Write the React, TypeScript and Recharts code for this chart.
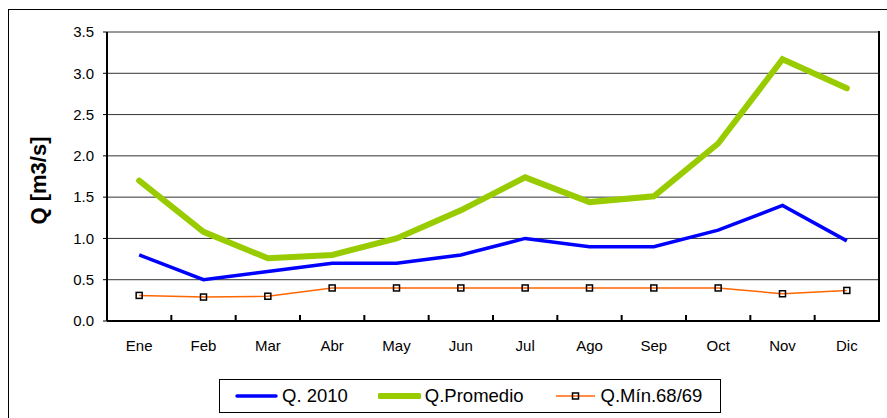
import { LineChart, Line, XAxis, YAxis, CartesianGrid, Label } from 'recharts';

const months = ['Ene', 'Feb', 'Mar', 'Abr', 'May', 'Jun', 'Jul', 'Ago', 'Sep', 'Oct', 'Nov', 'Dic'];
const q2010 = [0.8, 0.5, 0.6, 0.7, 0.7, 0.8, 1.0, 0.9, 0.9, 1.1, 1.4, 0.97];
const qPromedio = [1.7, 1.08, 0.76, 0.8, 1.0, 1.34, 1.74, 1.44, 1.51, 2.15, 3.17, 2.82];
const qMin = [0.31, 0.29, 0.3, 0.4, 0.4, 0.4, 0.4, 0.4, 0.4, 0.4, 0.33, 0.37];
const yTicks = [0, 0.5, 1.0, 1.5, 2.0, 2.5, 3.0, 3.5];

const series = [
  { key: 'q2010', name: 'Q. 2010', color: '#0000ff', width: 3.5 },
  { key: 'qProm', name: 'Q.Promedio', color: '#99cc00', width: 6 },
  { key: 'qMin', name: 'Q.Mín.68/69', color: '#ff6600', width: 1.5 },
];

const data = months.map((m, i) => ({
  month: m,
  q2010: q2010[i],
  qProm: qPromedio[i],
  qMin: qMin[i],
}));

const W = 887;
const H = 418;
const margin = { top: 32, right: 8, left: 0, bottom: 67 };
const Y_AXIS_W = 107;
const XAXIS_H = 30;
const BAND = (W - margin.left - margin.right - Y_AXIS_W) / months.length;
const FONT = '"Liberation Sans", Arial, sans-serif';

function MonthTick(props: any) {
  const { x, y, payload, index } = props;
  return (
    <g>
      <line x1={x - BAND / 2} x2={x - BAND / 2} y1={y} y2={y - 6} stroke="#000" strokeWidth={2} />
      {index === months.length - 1 && (
        <line x1={x + BAND / 2} x2={x + BAND / 2} y1={y} y2={y - 6} stroke="#000" strokeWidth={2} />
      )}
      <text x={x} y={y + 30} textAnchor="middle" fontSize={15} fill="#000" fontFamily={FONT}>
        {payload.value}
      </text>
    </g>
  );
}

function SquareDot(props: any) {
  const { cx, cy } = props;
  if (cx == null || cy == null) return null;
  return <rect x={cx - 3} y={cy - 3} width={6} height={6} fill="none" stroke="#000" strokeWidth={1.5} />;
}

function YTitle(props: any) {
  const { x, y, height } = props.viewBox;
  const cx = x + 38;
  const cy = y + height / 2 + 4;
  return (
    <text
      x={cx}
      y={cy}
      transform={`rotate(-90 ${cx} ${cy})`}
      textAnchor="middle"
      dominantBaseline="central"
      fontSize={22}
      fontWeight="bold"
      fill="#000"
      fontFamily={FONT}
    >
      Q [m3/s]
    </text>
  );
}

export default function App() {
  const plotTop = margin.top;
  const plotHeight = H - margin.top - margin.bottom - XAXIS_H;
  return (
    <div style={{ position: 'relative', width: W, height: H, fontFamily: FONT, overflow: 'hidden' }}>
      <style>{`body{margin:0;overflow:hidden;background:#fff}`}</style>
      <div
        style={{
          position: 'absolute',
          left: 8,
          top: 9,
          width: W,
          height: H,
          borderLeft: '1px solid #000',
          borderTop: '1px solid #000',
        }}
      />
      <LineChart width={W} height={H} data={data} margin={margin}>
        <CartesianGrid vertical={false} stroke="#333" />
        <XAxis
          dataKey="month"
          tick={<MonthTick />}
          tickLine={false}
          tickSize={0}
          tickMargin={0}
          height={XAXIS_H}
          interval={0}
          padding={{ left: BAND / 2, right: BAND / 2 }}
          axisLine={{ stroke: '#000', strokeWidth: 2 }}
        />
        <YAxis
          domain={[0, 3.5]}
          ticks={yTicks}
          width={Y_AXIS_W}
          tickFormatter={(v: number) => v.toFixed(1)}
          tick={{ fill: '#000', fontSize: 15, fontFamily: FONT }}
          tickSize={4}
          tickMargin={9}
          tickLine={{ stroke: '#000' }}
          axisLine={{ stroke: '#000', strokeWidth: 2 }}
        >
          <Label content={<YTitle />} />
        </YAxis>
        <Line
          dataKey="q2010"
          stroke="#0000ff"
          strokeWidth={3.5}
          dot={false}
          activeDot={false}
          isAnimationActive={false}
        />
        <Line
          dataKey="qProm"
          stroke="#99cc00"
          strokeWidth={6}
          strokeLinecap="round"
          dot={false}
          activeDot={false}
          isAnimationActive={false}
        />
        <Line
          dataKey="qMin"
          stroke="#ff6600"
          strokeWidth={1.5}
          dot={<SquareDot />}
          activeDot={false}
          isAnimationActive={false}
        />
      </LineChart>
      {/* right edge of the plot frame */}
      <div
        style={{
          position: 'absolute',
          left: W - margin.right - 1,
          top: plotTop - 1,
          width: 0,
          height: plotHeight + 2,
          borderLeft: '2px solid #000',
          pointerEvents: 'none',
        }}
      />
      <div
        style={{
          position: 'absolute',
          left: 219,
          top: 379,
          width: 502,
          height: 34,
          boxSizing: 'border-box',
          border: '1px solid #000',
          display: 'flex',
          alignItems: 'center',
          paddingLeft: 15,
          fontSize: 18.5,
          color: '#000',
          background: '#fff',
          whiteSpace: 'nowrap',
        }}
      >
        {series.map((s) => (
          <div key={s.key} style={{ display: 'flex', alignItems: 'center', marginRight: 30, flexShrink: 0 }}>
            <svg width={43} height={14}>
              <line
                x1={2}
                x2={41}
                y1={7}
                y2={7}
                stroke={s.color}
                strokeWidth={s.width}
                strokeLinecap={s.key === 'qMin' ? 'butt' : 'round'}
              />
              {s.key === 'qMin' && (
                <rect x={18.5} y={4} width={6} height={6} fill="none" stroke="#000" strokeWidth={1.5} />
              )}
            </svg>
            <span style={{ marginLeft: 4, lineHeight: 1 }}>{s.name}</span>
          </div>
        ))}
      </div>
    </div>
  );
}
